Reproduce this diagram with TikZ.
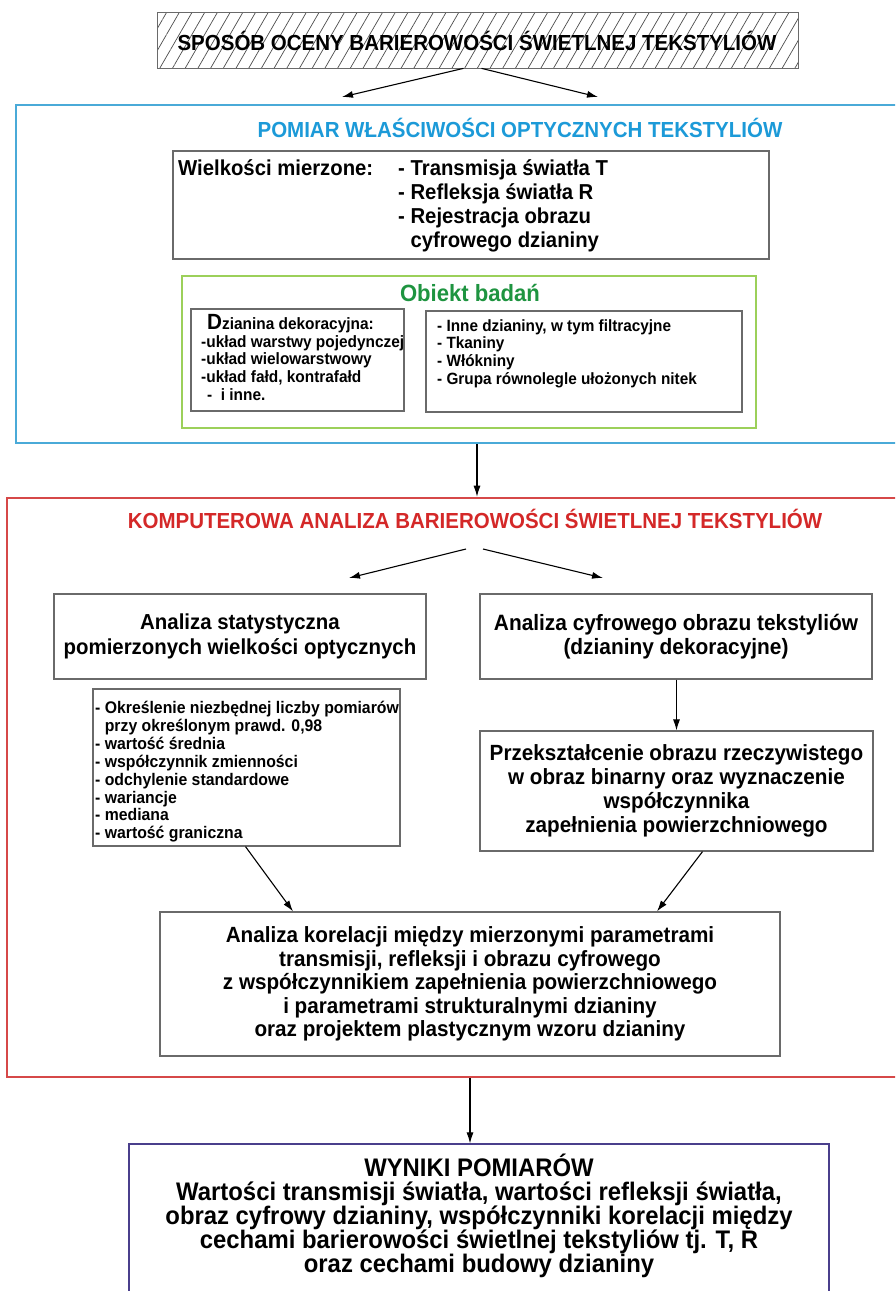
\documentclass[tikz,border=0pt]{standalone}
\usepackage{fontspec}
\setmainfont{Liberation Sans}[FakeStretch=0.94]
\usetikzlibrary{arrows.meta,calc,positioning,patterns.meta}
\definecolor{FrameBlue}{HTML}{4AAAD8}
\definecolor{TitleBlue}{HTML}{1C9AD8}
\definecolor{FrameRed}{HTML}{D64848}
\definecolor{TitleRed}{HTML}{D42828}
\definecolor{FrameGreen}{HTML}{9CD05A}
\definecolor{TitleGreen}{HTML}{1E9440}
\definecolor{FrameNavy}{HTML}{4A3F8C}
\definecolor{BoxGray}{HTML}{6A6A6A}
\newcommand{\fsz}[2]{\fontsize{#1}{#2}\selectfont\bfseries}

\begin{document}
\begin{tikzpicture}[
  x=1pt,
  y=-1pt,
  >=Latex,
  box/.style={rectangle,draw=BoxGray,line width=1.2pt,fill=white,inner sep=0pt,
    align=center},
  frame/.style={rectangle,line width=2.6pt,inner sep=0pt},
  title/.style={inner sep=0pt,font=\fsz{21.8}{24}},
  lst/.style={inner sep=0pt,align=left,anchor=north west},
  arr/.style={-{Latex[length=11pt,width=7pt]},line width=1.1pt}
]
  \useasboundingbox (0,0) rectangle (895,1291);
  \clip (0,0) rectangle (895,1291);
  \fill[white] (0,0) rectangle (895,1291);

  % top
  \node[rectangle,draw=BoxGray,line width=1pt,minimum width=641pt,minimum height=56pt,
    pattern={Lines[angle=60,distance=11pt,line width=0.7pt]},pattern color=black!70]
    (top) at (477.5,40) {};
  \node[title] (toptext) at (477,41) {SPOSÓB OCENY BARIEROWOŚCI ŚWIETLNEJ TEKSTYLIÓW};
  \coordinate (topl) at (342,97);
  \coordinate (topr) at (598,97);
  \draw[arr] ($(top.south)+(-14,0)$) -- (topl);
  \draw[arr] ($(top.south)+(4,0)$) -- (topr);

  % pomiar
  \node[frame,draw=FrameBlue,minimum width=889pt,minimum height=338pt] (pomiar) at (460.5,274) {};
  \node[title,text=TitleBlue] (pomiartitle) at (520,128) {POMIAR WŁAŚCIWOŚCI OPTYCZNYCH TEKSTYLIÓW};

  \node[box,minimum width=596pt,minimum height=108pt] (meas) at (471,205) {};
  \node[lst,font=\fsz{21.6}{24}] (measname) at (178,159) {Wielkości mierzone:};
  \node[lst,font=\fsz{21.6}{24}] (measlist) at (398,159) {- Transmisja światła T\\
    - Refleksja światła R\\
    - Rejestracja obrazu\\
    \hphantom{- }cyfrowego dzianiny};

  \node[box,draw=FrameGreen,minimum width=574pt,minimum height=152pt] (obiekt) at (469,352) {};
  \node[font=\fsz{23.5}{26},text=TitleGreen,inner sep=0pt] (obiekttitle) at (470,293) {Obiekt badań};
  \node[box,minimum width=213pt,minimum height=102pt] (dek) at (297.5,360) {};
  \node[lst,font=\fsz{16.4}{17.8}] (deklist) at (201,314) {\hspace{6pt}{\fontsize{22}{17.8}\selectfont D}zianina dekoracyjna:\\
    -układ warstwy pojedynczej\\
    -układ wielowarstwowy\\
    -układ fałd, kontrafałd\\
    \hspace{6pt}- \ i inne.};
  \node[box,minimum width=316pt,minimum height=101pt] (inne) at (584,361.5) {};
  \node[lst,font=\fsz{16.3}{17.8}] (innelist) at (437,319) {- Inne dzianiny, w tym filtracyjne\\
    - Tkaniny\\
    - Włókniny\\
    - Grupa równolegle ułożonych nitek};

  % analiza
  \node[frame,draw=FrameRed,minimum width=898pt,minimum height=579pt] (analiza) at (456,787.5) {};
  \draw[arr] (pomiar.south -| toptext.south) -- (analiza.north -| toptext.south);
  \node[title,text=TitleRed] (analizatitle) at (475,519) {KOMPUTEROWA ANALIZA BARIEROWOŚCI ŚWIETLNEJ TEKSTYLIÓW};
  \coordinate (anl) at (349,578);
  \coordinate (anr) at (603,578);
  \draw[arr] (466,549) -- (anl);
  \draw[arr] (483,549) -- (anr);

  \node[box,minimum width=372pt,minimum height=85pt,font=\fsz{21.7}{24.5}] (stat) at (240,636.5)
    {Analiza statystyczna\\ pomierzonych wielkości optycznych};
  \node[box,minimum width=392pt,minimum height=85pt,font=\fsz{22.2}{24.5}] (cyfr) at (676,636.5)
    {Analiza cyfrowego obrazu tekstyliów\\ (dzianiny dekoracyjne)};

  \node[box,minimum width=307pt,minimum height=157pt] (miary) at (246.5,767.5) {};
  \node[lst,font=\fsz{16.8}{17.9}] (miarylist) at (95,701) {- Określenie niezbędnej liczby pomiarów\\
    \hphantom{- }przy określonym prawd. 0,98\\
    - wartość średnia\\
    - współczynnik zmienności\\
    - odchylenie standardowe\\
    - wariancje\\
    - mediana\\
    - wartość graniczna};

  \node[box,minimum width=393pt,minimum height=120pt,font=\fsz{22}{23.8}] (binar) at (676.5,791)
    {Przekształcenie obrazu rzeczywistego\\ w obraz binarny oraz wyznaczenie\\
    współczynnika\\ zapełnienia powierzchniowego};
  \draw[arr] (cyfr.south -| binar.north) -- (binar.north);

  \node[box,minimum width=620pt,minimum height=144pt,font=\fsz{22}{23.5}] (korel) at (470,984)
    {Analiza korelacji między mierzonymi parametrami\\
    transmisji, refleksji i obrazu cyfrowego\\
    z współczynnikiem zapełnienia powierzchniowego\\
    i parametrami strukturalnymi dzianiny\\
    oraz projektem plastycznym wzoru dzianiny};
  \draw[arr] ($(miary.south)+(-1,0)$) -- ($(korel.north)+(-177,0)$);
  \draw[arr] ($(binar.south)+(26,0)$) -- ($(korel.north)+(187,0)$);

  % wyniki
  \node[box,draw=FrameNavy,minimum width=700pt,minimum height=170pt] (wyniki) at (479,1229) {};
  \draw[arr] (analiza.south -| korel.south) -- (wyniki.north -| korel.south);
  \node[font=\fsz{25.4}{24},align=center,inner sep=0pt] (wynikitext) at (479,1216)
    {WYNIKI POMIARÓW\\
    Wartości transmisji światła, wartości refleksji światła,\\
    obraz cyfrowy dzianiny, współczynniki korelacji między\\
    cechami barierowości świetlnej tekstyliów tj. T, R\\
    oraz cechami budowy dzianiny};
\end{tikzpicture}
\end{document}
